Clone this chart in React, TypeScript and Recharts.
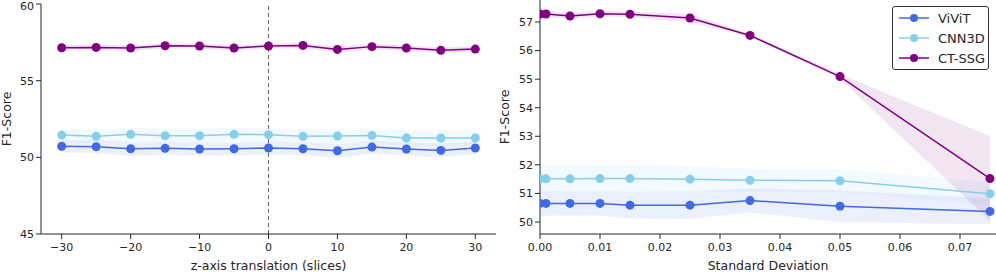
import { ComposedChart, Line, Area, XAxis, YAxis, ReferenceLine } from 'recharts';

// left panel: z-axis translation (slices)
const shiftX = [-30, -25, -20, -15, -10, -5, 0, 5, 10, 15, 20, 25, 30];
const shiftViViT = [50.72, 50.69, 50.56, 50.59, 50.54, 50.56, 50.61, 50.56, 50.43, 50.67, 50.54, 50.45, 50.61];
const shiftViViTStd = [0.4, 0.4, 0.45, 0.42, 0.42, 0.42, 0.42, 0.4, 0.45, 0.4, 0.42, 0.45, 0.4];
const shiftCNN3D = [51.45, 51.37, 51.5, 51.41, 51.41, 51.5, 51.48, 51.37, 51.39, 51.43, 51.26, 51.26, 51.26];
const shiftCNN3DStd = [0.45, 0.45, 0.45, 0.45, 0.45, 0.45, 0.45, 0.45, 0.45, 0.45, 0.5, 0.5, 0.5];
const shiftCTSSG = [57.15, 57.17, 57.13, 57.28, 57.26, 57.13, 57.26, 57.3, 57.04, 57.22, 57.13, 56.98, 57.06];
const shiftCTSSGStd = [0.18, 0.18, 0.18, 0.18, 0.18, 0.18, 0.18, 0.18, 0.18, 0.2, 0.18, 0.18, 0.18];
const shiftTicks = [-30, -20, -10, 0, 10, 20, 30];
const leftYTicks = [45, 50, 55, 60];

// right panel: gaussian noise standard deviation
const noiseX = [0, 0.001, 0.005, 0.01, 0.015, 0.025, 0.035, 0.05, 0.075];
const noiseViViT = [50.65, 50.65, 50.65, 50.65, 50.59, 50.59, 50.75, 50.55, 50.37];
const noiseViViTStd = [0.43, 0.43, 0.42, 0.42, 0.47, 0.48, 0.42, 0.55, 0.45];
const noiseCNN3D = [51.51, 51.51, 51.51, 51.52, 51.52, 51.5, 51.46, 51.44, 50.99];
const noiseCNN3DStd = [0.49, 0.49, 0.48, 0.48, 0.48, 0.45, 0.4, 0.4, 0.4];
const noiseCTSSG = [57.28, 57.28, 57.21, 57.29, 57.27, 57.14, 56.53, 55.09, 51.52];
const noiseCTSSGStd = [0.12, 0.12, 0.1, 0.1, 0.1, 0.15, 0.05, 0.08, 1.48];
const noiseTicks = [0, 0.01, 0.02, 0.03, 0.04, 0.05, 0.06, 0.07];
const rightYTicks = [50, 51, 52, 53, 54, 55, 56, 57];

const seriesNames = ['ViViT', 'CNN3D', 'CT-SSG'];

const FONT = '"DejaVu Sans", sans-serif';
const INK = '#262626';
const BLUE = '#4169e1';
const SKY = '#87ceeb';
const PURPLE = '#800080';
const COLORS = [BLUE, SKY, PURPLE];

function buildRows(xs: number[], v: number[], vs: number[], c: number[], cs: number[], t: number[], ts: number[]) {
  return xs.map((x, i) => ({
    x,
    vivit: v[i],
    vivitBand: [v[i] - vs[i], v[i] + vs[i]],
    cnn: c[i],
    cnnBand: [c[i] - cs[i], c[i] + cs[i]],
    ct: t[i],
    ctBand: [t[i] - ts[i], t[i] + ts[i]],
  }));
}

const shiftRows = buildRows(shiftX, shiftViViT, shiftViViTStd, shiftCNN3D, shiftCNN3DStd, shiftCTSSG, shiftCTSSGStd);
const noiseRows = buildRows(noiseX, noiseViViT, noiseViViTStd, noiseCNN3D, noiseCNN3DStd, noiseCTSSG, noiseCTSSGStd);

const tickStyle = { fontFamily: FONT, fontSize: 11, fill: INK };
const labelStyle = { fontFamily: FONT, fontSize: 12.5, fill: INK };

function renderSeries() {
  const keys = ['vivit', 'cnn', 'ct'];
  return [
    ...keys.map((k, i) => (
      <Area
        key={k + 'Band'}
        dataKey={k + 'Band'}
        type="linear"
        stroke="none"
        fill={COLORS[i]}
        fillOpacity={0.1}
        legendType="none"
        isAnimationActive={false}
        activeDot={false}
      />
    )),
    ...keys.map((k, i) => (
      <Line
        key={k}
        dataKey={k}
        name={seriesNames[i]}
        type="linear"
        stroke={COLORS[i]}
        strokeWidth={1.5}
        dot={{ r: 4.5, fill: COLORS[i], stroke: COLORS[i], strokeWidth: 0 }}
        activeDot={false}
        isAnimationActive={false}
      />
    )),
  ];
}

function LegendBox() {
  return (
    <div
      style={{
        position: 'absolute',
        left: 892,
        top: 6,
        width: 97,
        height: 64,
        boxSizing: 'border-box',
        border: '1px solid #333',
        borderRadius: 3,
        background: '#fff',
        fontFamily: FONT,
        fontSize: 13,
        color: INK,
        paddingTop: 1,
      }}
    >
      {seriesNames.map((name, i) => (
        <div key={name} style={{ display: 'flex', alignItems: 'center', height: 20 }}>
          <svg width={38} height={12} style={{ marginLeft: 4 }}>
            <line x1={2} y1={6} x2={32} y2={6} stroke={COLORS[i]} strokeWidth={1.5} />
            <circle cx={17} cy={6} r={4} fill={COLORS[i]} />
          </svg>
          <span style={{ marginLeft: 3 }}>{name}</span>
        </div>
      ))}
    </div>
  );
}

export default function App() {
  const minus = (v: number) => String(v).replace('-', '\u2212');
  return (
    <div style={{ position: 'absolute', left: 0, top: 0, width: 996, height: 272, background: '#fff', overflow: 'hidden' }}>
      <div style={{ position: 'absolute', left: 0, top: 0 }}>
        <ComposedChart width={498} height={272} data={shiftRows} margin={{ top: 4, right: 2, bottom: 0, left: 0 }}>
          <XAxis
            dataKey="x"
            type="number"
            domain={[-33, 33]}
            ticks={shiftTicks}
            tickFormatter={minus}
            height={38}
            stroke={INK}
            tickSize={5}
            tickMargin={4}
            tick={tickStyle}
            label={{ value: 'z-axis translation (slices)', position: 'insideBottom', offset: 2, style: labelStyle }}
          />
          <YAxis
            type="number"
            domain={[45, 60]}
            ticks={leftYTicks}
            allowDataOverflow
            width={41}
            stroke={INK}
            tickSize={5}
            tickMargin={2}
            tick={tickStyle}
            label={{ value: 'F1-Score', angle: -90, position: 'insideLeft', offset: 7, style: { ...labelStyle, textAnchor: 'middle' } }}
          />
          <ReferenceLine x={0} stroke="#666" strokeDasharray="4 3" strokeWidth={1} />
          {renderSeries()}
        </ComposedChart>
      </div>
      <div style={{ position: 'absolute', left: 490, top: 0 }}>
        <ComposedChart width={506} height={272} data={noiseRows} margin={{ top: 0, right: 0, bottom: 0, left: 10 }}>
          <XAxis
            dataKey="x"
            type="number"
            domain={[0, 0.076]}
            ticks={noiseTicks}
            tickFormatter={(v: number) => v.toFixed(2)}
            allowDataOverflow
            height={38}
            stroke={INK}
            tickSize={5}
            tickMargin={4}
            tick={tickStyle}
            label={{ value: 'Standard Deviation', position: 'insideBottom', offset: 2, style: labelStyle }}
          />
          <YAxis
            type="number"
            domain={[49.58, 57.77]}
            ticks={rightYTicks}
            allowDataOverflow
            width={40}
            stroke={INK}
            tickSize={5}
            tickMargin={2}
            tick={tickStyle}
            label={{ value: 'F1-Score', angle: -90, position: 'insideLeft', offset: 5, style: { ...labelStyle, textAnchor: 'middle' } }}
          />
          {renderSeries()}
        </ComposedChart>
      </div>
      <LegendBox />
    </div>
  );
}
